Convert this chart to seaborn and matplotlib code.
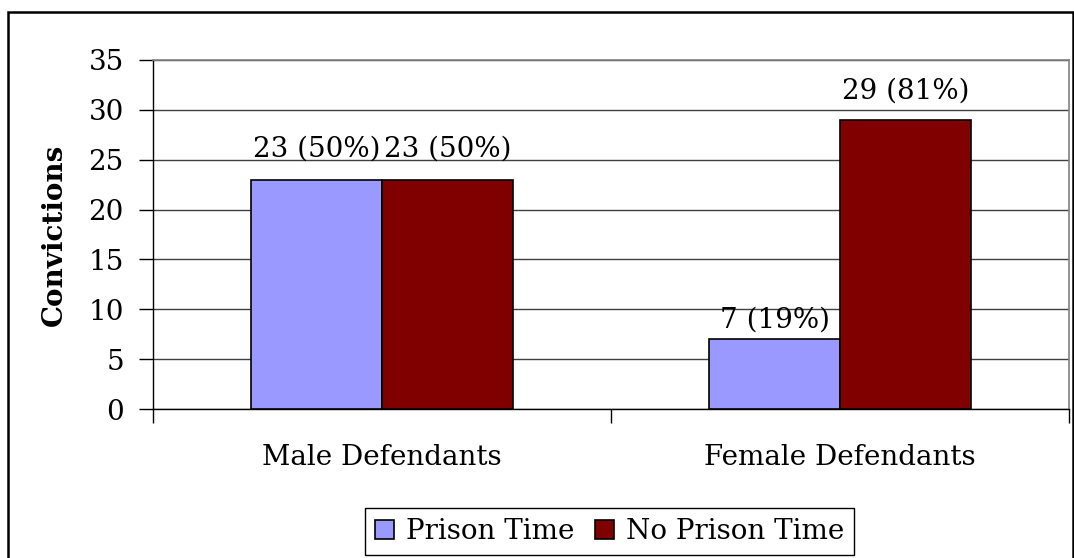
import pandas as pd
import matplotlib
matplotlib.use('Agg')
import matplotlib.pyplot as plt
import matplotlib.patches as patches
from matplotlib.ticker import FixedLocator
import seaborn as sns

# Data
groups = ['Male Defendants', 'Female Defendants']
series = ['Prison Time', 'No Prison Time']
prison_time = [23, 7]
no_prison_time = [23, 29]
prison_pct = [50, 19]
no_prison_pct = [50, 81]
bar_colors = ['#9999FF', '#800000']

df = pd.DataFrame({
    'group': groups * 2,
    'series': [series[0]] * len(groups) + [series[1]] * len(groups),
    'count': prison_time + no_prison_time,
})

sns.set_theme(style='white')
plt.rcParams['font.family'] = ['DejaVu Serif']
for key in ['text.color', 'axes.labelcolor', 'xtick.color', 'ytick.color']:
    plt.rcParams[key] = 'black'

FS = 20

fig = plt.figure(figsize=(10.74, 5.58), dpi=100)
ax = fig.add_axes([153 / 1074, 1 - 409 / 558, 916 / 1074, 349 / 558])

sns.barplot(data=df, x='group', y='count', hue='series', order=groups, hue_order=series,
            palette=bar_colors, width=0.571, edgecolor='black', linewidth=1.2,
            saturation=1, ax=ax, zorder=3)

# value labels, "n (pct%)" above each bar (offsets follow the reference)
label_sets = [prison_pct, no_prison_pct]
vals_sets = [prison_time, no_prison_time]
paddings = [[12, 4], [12, 11]]
for cont, vals, pcts, pads in zip(ax.containers, vals_sets, label_sets, paddings):
    for bar, v, p, pad in zip(cont, vals, pcts, pads):
        ax.annotate(f'{v} ({p}%)', (bar.get_x() + bar.get_width() / 2, bar.get_height()),
                    xytext=(0, pad), textcoords='offset points',
                    ha='center', va='bottom', fontsize=FS, color='black')

ax.set_ylim(0, 35)
ax.set_xlim(-0.5, 1.5)
ax.set_yticks(range(0, 36, 5))
ax.yaxis.grid(True, color='#404040', linewidth=1)
ax.set_axisbelow(True)

for side in ['top', 'right']:
    ax.spines[side].set_color('#808080')
    ax.spines[side].set_linewidth(1.2)
for side in ['left', 'bottom']:
    ax.spines[side].set_color('black')
    ax.spines[side].set_linewidth(1)

ax.tick_params(axis='y', which='major', direction='out', length=10, width=1,
               color='black', labelsize=FS, pad=11, left=True)
ax.xaxis.set_minor_locator(FixedLocator([-0.5, 0.5, 1.5]))
ax.tick_params(axis='x', which='minor', direction='out', length=10, width=1,
               color='black', bottom=True)
ax.tick_params(axis='x', which='major', length=0, labelsize=FS, pad=25)

ax.set_xlabel('')
ax.set_ylabel('Convictions', fontsize=FS, fontweight='bold')
ax.yaxis.set_label_coords(-0.093, 0.5)

ax.legend(loc='center', bbox_to_anchor=(609.5 / 1074, 26.5 / 558), bbox_transform=fig.transFigure,
          ncol=2, fontsize=FS, frameon=True, fancybox=False, edgecolor='black',
          framealpha=1, handlelength=0.68, handleheight=0.68, handletextpad=0.42,
          columnspacing=0.75, borderpad=0.35, borderaxespad=0)
ax.get_legend().get_frame().set_linewidth(1)

# outer chart border (bottom edge runs past the image)
fig.patches.append(patches.Rectangle((8 / 1074, -0.05), 1065 / 1074, 1 - 12 / 558 + 0.05,
                                     transform=fig.transFigure, fill=False,
                                     edgecolor='black', linewidth=1.8))

fig.savefig('out.png', dpi=100)
